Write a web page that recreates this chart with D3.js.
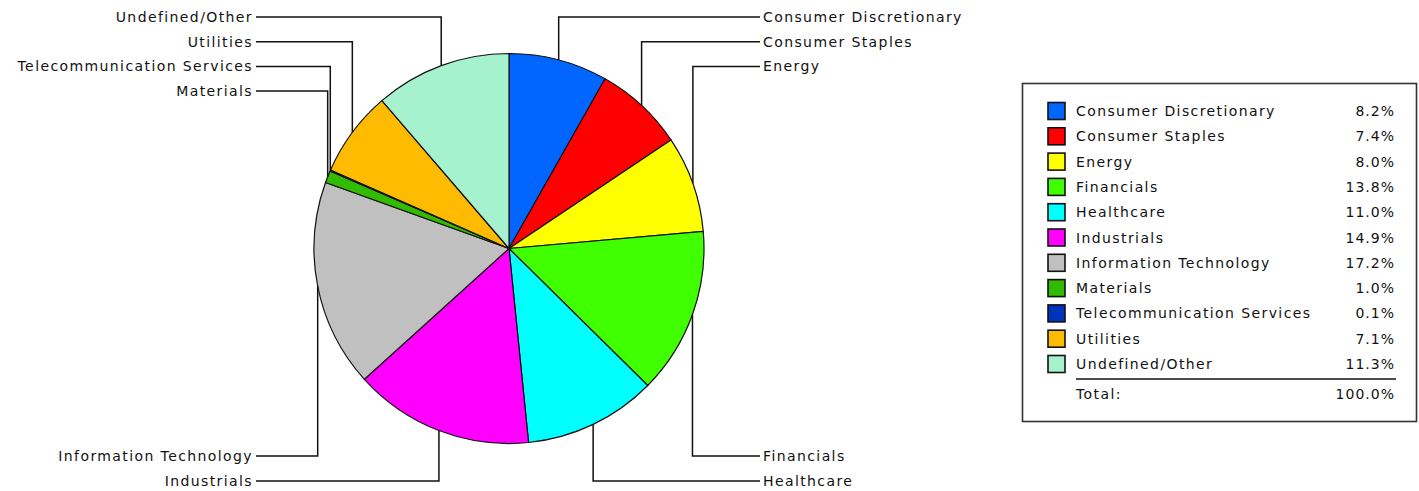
<!DOCTYPE html>
<html><head><meta charset="utf-8">
<script src="https://cdn.jsdelivr.net/npm/d3@7"></script>
<style>
html,body{margin:0;padding:0;background:#fff;}
svg text{font-family:"DejaVu Sans",sans-serif;font-size:14px;letter-spacing:1.4px;fill:#111;}
</style></head>
<body>
<svg id="chart" width="1419" height="491"></svg>
<script>
const categories = ["Consumer Discretionary","Consumer Staples","Energy","Financials","Healthcare","Industrials","Information Technology","Materials","Telecommunication Services","Utilities","Undefined/Other"];
const values = [8.2,7.4,8.0,13.8,11.0,14.9,17.2,1.0,0.1,7.1,11.3];
const colors = ["#0066ff","#ff0000","#ffff00","#40ff00","#00ffff","#ff00ff","#c0c0c0","#33bb00","#0033bb","#ffbb00","#a6f2cf"];
const totalLabel = "Total:";
const totalValue = "100.0%";

const svg = d3.select("#chart");
const cx = 509, cy = 248.5, R = 195;

const pie = d3.pie().sort(null).value(d => d)(values);
const arc = d3.arc().innerRadius(0).outerRadius(R);

const g = svg.append("g").attr("transform", `translate(${cx},${cy})`);
g.selectAll("path").data(pie).join("path")
  .attr("d", arc)
  .attr("fill", (d,i) => colors[i])
  .attr("stroke", "#111")
  .attr("stroke-width", 1.2)
  .attr("stroke-linejoin", "round");

// Leader labels
const items = pie.map((d,i) => {
  const a = (d.startAngle + d.endAngle) / 2;
  return {i, a, px: cx + R*Math.sin(a), py: cy - R*Math.cos(a), right: Math.sin(a) > 0, top: Math.cos(a) > 0};
});
const topY = d3.scaleLinear().domain([0,1]).range([17, 41.7]);
const botY = d3.scaleLinear().domain([0,1]).range([481, 456]);
function assign(group, isTop) {
  if (isTop) group.sort((p,q) => Math.abs(Math.sin(p.a/2)) - Math.abs(Math.sin(q.a/2)));
  else group.sort((p,q) => Math.abs(p.a - Math.PI) - Math.abs(q.a - Math.PI));
  group.forEach((it,k) => it.ly = isTop ? topY(k) : botY(k));
}
assign(items.filter(d => d.right && d.top), true);
assign(items.filter(d => !d.right && d.top), true);
assign(items.filter(d => d.right && !d.top), false);
assign(items.filter(d => !d.right && !d.top), false);

const rightX = 760, leftX = 256;
const lab = svg.append("g");
lab.selectAll("path").data(items).join("path")
  .attr("d", d => `M${d.right ? rightX : leftX},${d.ly}H${d.px}V${d.py}`)
  .attr("fill","none").attr("stroke","#111").attr("stroke-width",1.5);
lab.selectAll("text").data(items).join("text")
  .attr("x", d => d.right ? rightX + 3 : leftX - 3)
  .attr("y", d => d.ly)
  .attr("dy", "0.36em")
  .attr("text-anchor", d => d.right ? "start" : "end")
  .text(d => categories[d.i]);

// Legend
const lg = svg.append("g");
lg.append("rect").attr("x",1022.5).attr("y",83.5).attr("width",394).attr("height",338)
  .attr("fill","#fff").attr("stroke","#333").attr("stroke-width",1.6);
const rowY = d3.scalePoint().domain(categories).range([111, 364]);
const rows = lg.selectAll("g.row").data(categories).join("g").attr("class","row")
  .attr("transform", d => `translate(0,${rowY(d)})`);
rows.append("rect").attr("x",1048).attr("y",-8.5).attr("width",17).attr("height",17)
  .attr("fill",(d,i)=>colors[i]).attr("stroke","#111").attr("stroke-width",1.6);
rows.append("text").attr("x",1076).attr("dy","0.36em").text(d => d);
rows.append("text").attr("x",1395).attr("dy","0.36em").attr("text-anchor","end")
  .style("letter-spacing","1px")
  .text((d,i) => values[i].toFixed(1) + "%");
lg.append("line").attr("x1",1076).attr("x2",1396).attr("y1",379).attr("y2",379)
  .attr("stroke","#111").attr("stroke-width",1.5);
lg.append("text").attr("x",1076).attr("y",394).attr("dy","0.36em").text(totalLabel);
lg.append("text").attr("x",1395).attr("y",394).attr("dy","0.36em").attr("text-anchor","end")
  .style("letter-spacing","1px").text(totalValue);
</script>
</body></html>
